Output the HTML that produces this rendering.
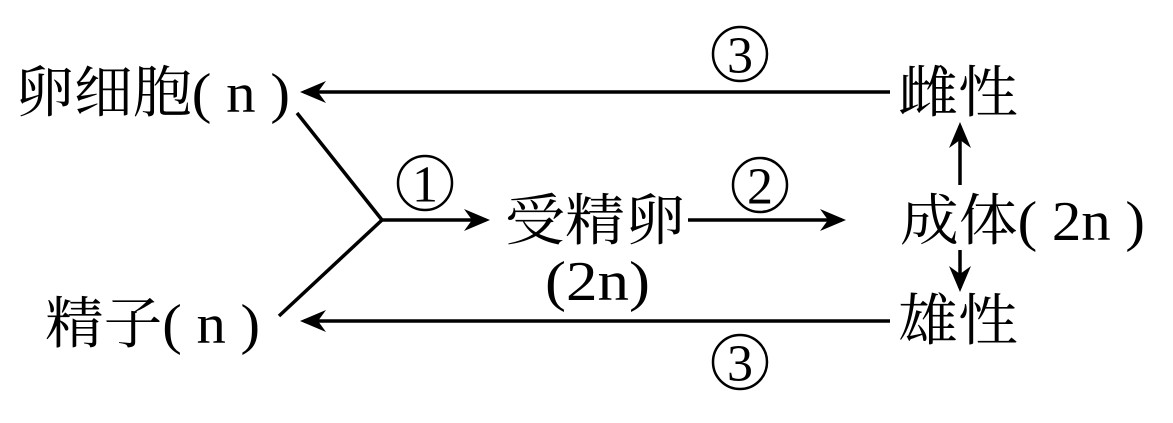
<!DOCTYPE html>
<html><head><meta charset="utf-8"><style>html,body{margin:0;padding:0;background:#fff}</style></head>
<body>
<svg width="1173" height="418" xmlns="http://www.w3.org/2000/svg" font-family="'Liberation Serif','Noto Serif CJK SC',serif" font-size="56" fill="#000">
<g stroke="#000" stroke-width="3.5" fill="none">
<line x1="890" y1="92" x2="304" y2="92"/>
<line x1="890" y1="321" x2="304" y2="321"/>
<line x1="297" y1="113" x2="382" y2="220"/>
<line x1="382" y1="220" x2="279" y2="316"/>
<line x1="382" y1="220" x2="486" y2="220"/>
<line x1="688" y1="220" x2="842" y2="220"/>
<line x1="960" y1="185" x2="960" y2="126"/>
<line x1="960" y1="250" x2="960" y2="288"/>
</g>
<path d="M300,92 L326,81 L318,92 L326,103 Z"/>
<path d="M300,321 L326,310 L318,321 L326,332 Z"/>
<path d="M490,220 L464,209 L472,220 L464,231 Z"/>
<path d="M846,220 L820,209 L828,220 L820,231 Z"/>
<path d="M960,122 L949,148 L960,140 L971,148 Z"/>
<path d="M960,292 L949,266 L960,274 L971,266 Z"/>
<g dominant-baseline="central">
<text x="15" y="94" textLength="275" lengthAdjust="spacingAndGlyphs">卵细胞( n )</text>
<text x="45" y="325" textLength="215" lengthAdjust="spacingAndGlyphs">精子( n )</text>
<text x="505" y="222" textLength="180" lengthAdjust="spacingAndGlyphs">受精卵</text>
<text x="545" y="282" textLength="105" lengthAdjust="spacingAndGlyphs">(2n)</text>
<text x="898" y="94" textLength="120" lengthAdjust="spacingAndGlyphs">雌性</text>
<text x="898" y="322" textLength="120" lengthAdjust="spacingAndGlyphs">雄性</text>
<text x="900" y="222" textLength="245" lengthAdjust="spacingAndGlyphs">成体( 2n )</text>
</g>
<g fill="none" stroke="#000" stroke-width="2.5">
<circle cx="740" cy="54" r="27"/>
<circle cx="425" cy="183" r="27"/>
<circle cx="760" cy="185" r="27"/>
<circle cx="740" cy="362" r="27"/>
</g>
<g text-anchor="middle" dominant-baseline="central" font-size="52">
<text x="740" y="56">3</text>
<text x="425" y="185">1</text>
<text x="760" y="187">2</text>
<text x="740" y="364">3</text>
</g>
</svg>
</body></html>
